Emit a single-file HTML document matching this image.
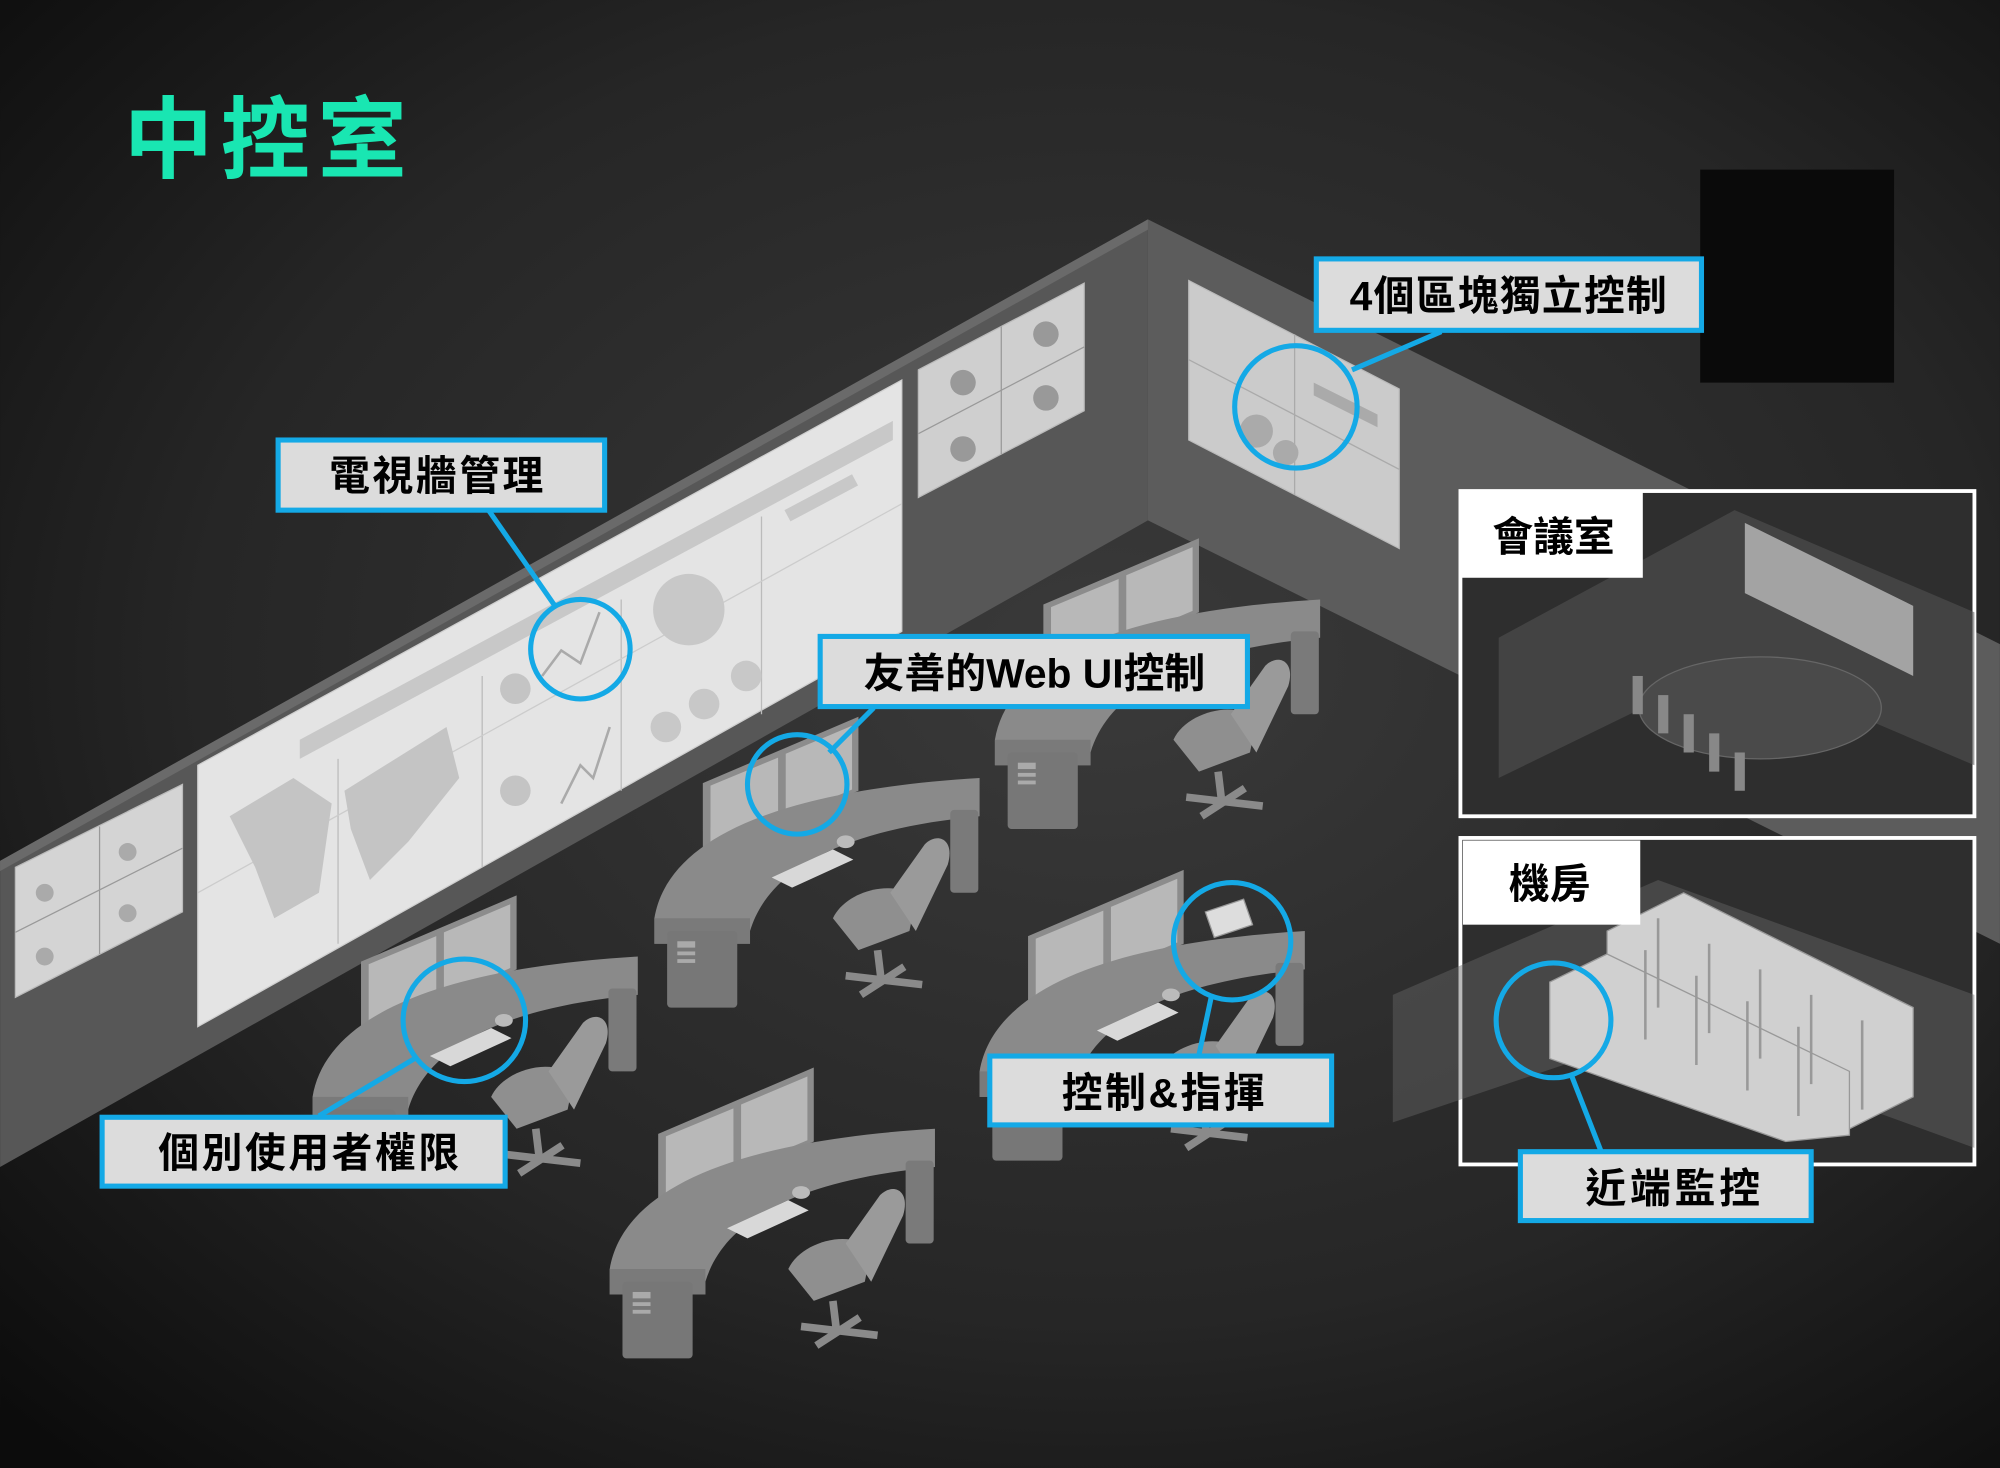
<!DOCTYPE html>
<html><head><meta charset="utf-8"><style>
html,body{margin:0;padding:0;background:#111}
svg{display:block}
text{font-family:"Liberation Sans","Noto Sans CJK TC",sans-serif;font-weight:bold}
</style></head><body>
<svg width="2000" height="1468" viewBox="0 0 1568 1151" xmlns="http://www.w3.org/2000/svg">
<defs>
<radialGradient id="bg" cx="0.55" cy="0.45" r="0.75">
<stop offset="0" stop-color="#3a3a3a"/><stop offset="0.6" stop-color="#262626"/><stop offset="1" stop-color="#0c0c0c"/>
</radialGradient>
<g id="desk">
 <polygon points="38,92 160,40 160,-18 38,34" fill="#8c8c8c"/>
 <polygon points="44,86 97,64 97,14 44,36" fill="#b8b8b8"/>
 <polygon points="103,61 155,39 155,-11 103,11" fill="#b8b8b8"/>
 <rect x="62" y="88" width="4" height="14" fill="#999"/><rect x="125" y="62" width="4" height="14" fill="#999"/>
 <path d="M0,140 C10,80 90,40 255,30 L255,60 C150,70 90,100 75,150 L75,160 L0,160 Z" fill="#8a8a8a"/>
 <path d="M0,140 L75,140 L75,160 L0,160 Z" fill="#7a7a7a"/>
 <rect x="10" y="150" width="55" height="60" rx="3" fill="#777"/>
 <rect x="18" y="158" width="14" height="5" fill="#aaa"/><rect x="18" y="166" width="14" height="3" fill="#aaa"/><rect x="18" y="172" width="14" height="3" fill="#aaa"/>
 <rect x="232" y="55" width="22" height="65" rx="3" fill="#7a7a7a"/>
 <polygon points="92,108 140,86 156,94 108,116" fill="#d8d8d8"/>
 <ellipse cx="150" cy="80" rx="7" ry="5" fill="#bbb"/>
 <path d="M140,140 C150,118 190,108 205,125 L200,150 L160,165 Z" fill="#8f8f8f"/>
 <path d="M185,120 L212,82 C222,72 236,78 230,98 L205,150 Z" fill="#9a9a9a"/>
 <path d="M175,165 L178,190 M150,185 L210,192 M162,200 L196,178" stroke="#8a8a8a" stroke-width="6"/>
</g>
</defs>
<rect width="1568" height="1151" fill="url(#bg)"/>
<!-- walls -->
<polygon points="900,172 1568,505 1568,740 900,408" fill="#5c5c5c"/>
<polygon points="0,675 900,172 900,408 0,915" fill="#575757"/>
<polygon points="0,675 900,172 900,180 0,683" fill="#6a6a6a"/>
<rect x="1333" y="133" width="152" height="167" fill="#0a0a0a"/>
<!-- big wall -->
<polygon points="155,600 707,298 707,495 155,805" fill="#e4e4e4" stroke="#cfcfcf"/>
<polygon points="235,580 700,330 700,345 235,595" fill="#c8c8c8"/>
<line x1="265" y1="595" x2="265" y2="740" stroke="#bbb"/><line x1="378" y1="530" x2="378" y2="680" stroke="#bbb"/><line x1="487" y1="470" x2="487" y2="620" stroke="#bbb"/><line x1="597" y1="405" x2="597" y2="560" stroke="#bbb"/>
<line x1="155" y1="700" x2="707" y2="395" stroke="#ccc"/>
<path d="M180,640 L230,610 L260,630 L250,700 L215,720 L200,680 Z M270,620 L350,570 L360,610 L320,660 L290,690 L275,650 Z" fill="#c4c4c4"/>
<circle cx="540" cy="478" r="28" fill="#c8c8c8"/><circle cx="522" cy="570" r="12" fill="#c8c8c8"/><circle cx="552" cy="552" r="12" fill="#c8c8c8"/><circle cx="585" cy="530" r="12" fill="#c8c8c8"/>
<circle cx="404" cy="540" r="12" fill="#c4c4c4"/><circle cx="404" cy="620" r="12" fill="#c4c4c4"/>
<polyline points="425,530 440,510 455,520 470,480" fill="none" stroke="#aaa" stroke-width="2"/>
<polyline points="440,630 455,600 465,610 478,570" fill="none" stroke="#aaa" stroke-width="2"/>
<rect x="615" y="400" width="60" height="10" fill="#c8c8c8" transform="rotate(-28 615 400)"/>
<!-- small screens left -->
<polygon points="12,680 143,615 143,715 12,782" fill="#d4d4d4" stroke="#bbb"/>
<line x1="12" y1="731" x2="143" y2="665" stroke="#999"/><line x1="78" y1="648" x2="78" y2="748" stroke="#999"/>
<circle cx="35" cy="700" r="7" fill="#aaa"/><circle cx="100" cy="668" r="7" fill="#aaa"/><circle cx="35" cy="750" r="7" fill="#aaa"/><circle cx="100" cy="716" r="7" fill="#aaa"/>
<!-- small screens top -->
<polygon points="720,290 850,222 850,322 720,390" fill="#cfcfcf" stroke="#bbb"/>
<line x1="720" y1="340" x2="850" y2="272" stroke="#999"/><line x1="785" y1="256" x2="785" y2="356" stroke="#999"/>
<circle cx="755" cy="300" r="10" fill="#999"/><circle cx="820" cy="262" r="10" fill="#999"/><circle cx="755" cy="352" r="10" fill="#999"/><circle cx="820" cy="312" r="10" fill="#999"/>
<!-- right wall screen -->
<polygon points="932,220 1097,305 1097,430 932,345" fill="#cbcbcb" stroke="#bbb"/>
<line x1="1015" y1="262" x2="1015" y2="388" stroke="#aaa"/><line x1="932" y1="282" x2="1097" y2="368" stroke="#aaa"/>
<polygon points="1030,300 1080,325 1080,335 1030,310" fill="#aaa"/>
<circle cx="985" cy="338" r="13" fill="#aaa"/><circle cx="1008" cy="355" r="10" fill="#aaa"/>
<!-- desks -->
<use href="#desk" x="780" y="440"/>
<use href="#desk" x="513" y="580"/>
<use href="#desk" x="245" y="720"/>
<use href="#desk" x="768" y="700"/>
<use href="#desk" x="478" y="855"/>
<!-- tablet -->
<polygon points="945,715 975,705 982,725 952,735" fill="#ddd" stroke="#999"/>
<!-- meeting room panel -->
<rect x="1145" y="385" width="403" height="255" fill="#2e2e2e" stroke="#fff" stroke-width="3"/>
<polygon points="1175,500 1360,400 1548,480 1548,600 1360,520 1175,610" fill="#555" opacity="0.55"/>
<polygon points="1368,410 1500,475 1500,530 1368,465" fill="#bbb" opacity="0.8"/>
<ellipse cx="1380" cy="555" rx="95" ry="40" fill="#4a4a4a" stroke="#666"/>
<g fill="#888"><rect x="1280" y="530" width="8" height="30"/><rect x="1300" y="545" width="8" height="30"/><rect x="1320" y="560" width="8" height="30"/><rect x="1340" y="575" width="8" height="30"/><rect x="1360" y="590" width="8" height="30"/></g>
<rect x="1145" y="385" width="143" height="68" fill="#fff"/>
<text x="1218" y="432" font-size="32" text-anchor="middle" fill="#000">會議室</text>
<!-- server room panel -->
<rect x="1145" y="657" width="403" height="256" fill="#2e2e2e" stroke="#fff" stroke-width="3"/>
<polygon points="1092,780 1300,690 1548,780 1548,900 1300,810 1092,880" fill="#666" opacity="0.45"/>
<g fill="#d0d0d0" stroke="#999">
<polygon points="1260,730 1320,700 1500,790 1500,860 1440,890 1260,800"/>
<polygon points="1215,770 1260,748 1450,840 1450,890 1400,895 1215,830"/>
</g>
<g stroke="#999" stroke-width="2">
<line x1="1290" y1="745" x2="1290" y2="815"/><line x1="1330" y1="765" x2="1330" y2="835"/><line x1="1370" y1="785" x2="1370" y2="855"/><line x1="1410" y1="805" x2="1410" y2="875"/>
<line x1="1300" y1="720" x2="1300" y2="790"/><line x1="1340" y1="740" x2="1340" y2="810"/><line x1="1380" y1="760" x2="1380" y2="830"/><line x1="1420" y1="780" x2="1420" y2="850"/><line x1="1460" y1="800" x2="1460" y2="870"/>
</g>
<rect x="1147" y="659" width="139" height="66" fill="#fff"/>
<text x="1215" y="704" font-size="32" text-anchor="middle" fill="#000">機房</text>
<!-- title -->
<text x="97" y="134" font-size="70" fill="#19e6b2" letter-spacing="6">中控室</text>
<!-- connectors -->
<g stroke="#14a9e6" stroke-width="4" fill="none">
<line x1="383" y1="400" x2="435" y2="475"/>
<line x1="1060" y1="290" x2="1130" y2="260"/>
<line x1="685" y1="555" x2="650" y2="590"/>
<line x1="250" y1="875" x2="325" y2="830"/>
<line x1="940" y1="827" x2="950" y2="780"/>
<line x1="1255" y1="902" x2="1232" y2="843"/>
<circle cx="455" cy="509" r="39"/>
<circle cx="1016" cy="319" r="48"/>
<circle cx="625" cy="615" r="39"/>
<circle cx="364" cy="800" r="48"/>
<circle cx="966" cy="738" r="46"/>
<circle cx="1218" cy="800" r="45"/>
</g>
<!-- labels -->
<g fill="#dcdcdc" stroke="#14a9e6" stroke-width="4">
<rect x="218" y="345" width="256" height="55"/>
<rect x="1032" y="203" width="302" height="56"/>
<rect x="643" y="499" width="335" height="55"/>
<rect x="80" y="876" width="316" height="54"/>
<rect x="776" y="828" width="268" height="54"/>
<rect x="1192" y="903" width="228" height="54"/>
</g>
<g font-size="32" fill="#000" text-anchor="middle">
<text x="343" y="384" letter-spacing="2">電視牆管理</text>
<text x="1183" y="243" letter-spacing="1">4個區塊獨立控制</text>
<text x="811" y="539">友善的Web UI控制</text>
<text x="243" y="915" letter-spacing="2">個別使用者權限</text>
<text x="913" y="868" letter-spacing="2">控制&amp;指揮</text>
<text x="1313" y="943" letter-spacing="3">近端監控</text>
</g>
</svg>
</body></html>
